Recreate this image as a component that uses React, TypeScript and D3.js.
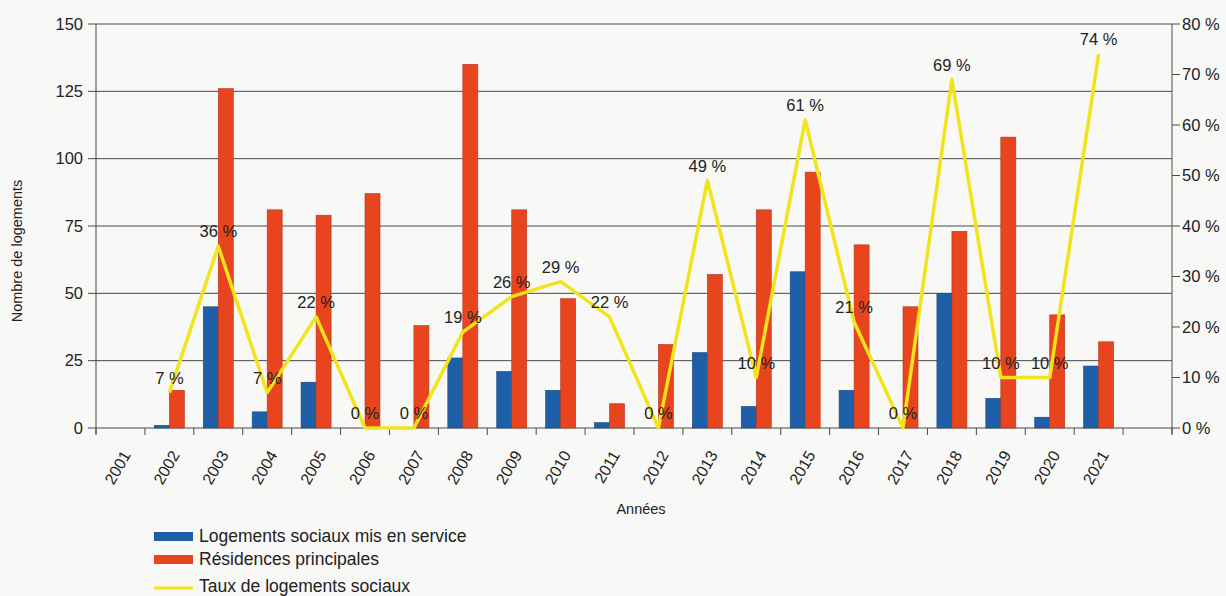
import React from "react";
import * as d3 from "d3";

const years = ["2001","2002","2003","2004","2005","2006","2007","2008","2009","2010","2011","2012","2013","2014","2015","2016","2017","2018","2019","2020","2021"];
const slots = [...years, ""];
const sociaux = [0, 1, 45, 6, 17, 0, 0, 26, 21, 14, 2, 0, 28, 8, 58, 14, 0, 50, 11, 4, 23];
const residences = [0, 14, 126, 81, 79, 87, 38, 135, 81, 48, 9, 31, 57, 81, 95, 68, 45, 73, 108, 42, 32];
const taux: (number | null)[] = [null, 7, 36, 7, 22, 0, 0, 19, 26, 29, 22, 0, 49, 10, 61, 21, 0, 69, 10, 10, 74];
const leftTicks = [0, 25, 50, 75, 100, 125, 150];
const rightTicks = [0, 10, 20, 30, 40, 50, 60, 70, 80];

const W = 1226, H = 596;
const L = 96, R = 1172, T = 24, B = 428;
const BLUE = "#1f5fa8", RED = "#e8451e", YELLOW = "#f2e41a";
const FONT = "'Liberation Sans', Arial, sans-serif";
const TXT = "#222";

export default function App() {
  const x = d3.scaleBand<string>().domain(slots.map((s, i) => String(i))).range([L, R]).padding(0);
  const y = d3.scaleLinear().domain([0, 150]).range([B, T]);
  const y2 = d3.scaleLinear().domain([0, 80]).range([B, T]);
  const bw = 15;
  const cx = (i: number) => (x(String(i)) as number) + x.bandwidth() / 2;
  const pts = taux.map((v, i) => (v == null ? null : [cx(i), y2(v)] as [number, number])).filter(Boolean) as [number, number][];
  const line = d3.line<[number, number]>().x(d => d[0]).y(d => d[1]);

  return (
    <svg width={W} height={H} style={{ display: "block", position: "absolute", left: 0, top: 0, background: "#f8f8f6" }}>
      <rect x={0} y={0} width={W} height={H} fill="#f8f8f6" />
      {/* grid */}
      {leftTicks.map(t => (
        <line key={"g" + t} x1={L} x2={R} y1={y(t)} y2={y(t)} stroke="#4a4a4a" strokeWidth={1} />
      ))}
      {/* left axis */}
      <line x1={L} x2={L} y1={T} y2={B + 6} stroke="#4a4a4a" />
      {leftTicks.map(t => (
        <g key={"l" + t}>
          <line x1={L - 8} x2={L} y1={y(t)} y2={y(t)} stroke="#4a4a4a" />
          <text x={L - 13} y={y(t)} dy="0.35em" textAnchor="end" fontFamily={FONT} fontSize={16.5} fill={TXT}>{t}</text>
        </g>
      ))}
      {/* right axis */}
      <line x1={R} x2={R} y1={T} y2={B + 6} stroke="#4a4a4a" />
      {rightTicks.map(t => (
        <g key={"r" + t}>
          <line x1={R} x2={R + 8} y1={y2(t)} y2={y2(t)} stroke="#4a4a4a" />
          <text x={R + 10} y={y2(t)} dy="0.35em" textAnchor="start" fontFamily={FONT} fontSize={16.5} fill={TXT}>{t} %</text>
        </g>
      ))}
      {/* x ticks */}
      {slots.map((s, i) => (
        <line key={"xt" + i} x1={x(String(i)) as number} x2={x(String(i)) as number} y1={B} y2={B + 7} stroke="#4a4a4a" />
      ))}
      <line x1={R} x2={R} y1={B} y2={B + 7} stroke="#4a4a4a" />
      {/* bars */}
      {years.map((yr, i) => (
        <g key={"b" + yr}>
          {sociaux[i] > 0 && (
            <rect x={cx(i) - bw} y={y(sociaux[i])} width={bw} height={B - y(sociaux[i])} fill={BLUE} stroke="#17477f" strokeWidth={0.6} />
          )}
          {residences[i] > 0 && (
            <rect x={cx(i)} y={y(residences[i])} width={bw} height={B - y(residences[i])} fill={RED} stroke="#b8321a" strokeWidth={0.6} />
          )}
        </g>
      ))}
      {/* line */}
      <path d={line(pts) || ""} fill="none" stroke={YELLOW} strokeWidth={3.5} strokeLinejoin="round" />
      {taux.map((v, i) =>
        v == null ? null : (
          <text key={"lab" + i} x={cx(i)} y={y2(v) - 9} textAnchor="middle" fontFamily={FONT} fontSize={16.5} fill={TXT}>{v} %</text>
        )
      )}
      {/* x labels */}
      {years.map((yr, i) => (
        <text key={"xl" + yr} transform={`translate(${cx(i) + 6},${B + 24}) rotate(-60)`} textAnchor="end" dy="0.35em" fontFamily={FONT} fontSize={16} fill={TXT}>{yr}</text>
      ))}
      {/* axis titles */}
      <text x={641} y={514} textAnchor="middle" fontFamily={FONT} fontSize={14.5} fill={TXT}>Années</text>
      <text transform={`translate(22,251) rotate(-90)`} textAnchor="middle" fontFamily={FONT} fontSize={14.5} fill={TXT}>Nombre de logements</text>
      {/* legend */}
      <rect x={154} y={532} width={39} height={9} fill={BLUE} />
      <text x={199} y={542} fontFamily={FONT} fontSize={17.5} fill={TXT}>Logements sociaux mis en service</text>
      <rect x={154} y={555} width={39} height={9} fill={RED} />
      <text x={199} y={565} fontFamily={FONT} fontSize={17.5} fill={TXT}>Résidences principales</text>
      <line x1={154} x2={193} y1={588} y2={588} stroke={YELLOW} strokeWidth={3} />
      <text x={199} y={592} fontFamily={FONT} fontSize={17.5} fill={TXT}>Taux de logements sociaux</text>
    </svg>
  );
}
